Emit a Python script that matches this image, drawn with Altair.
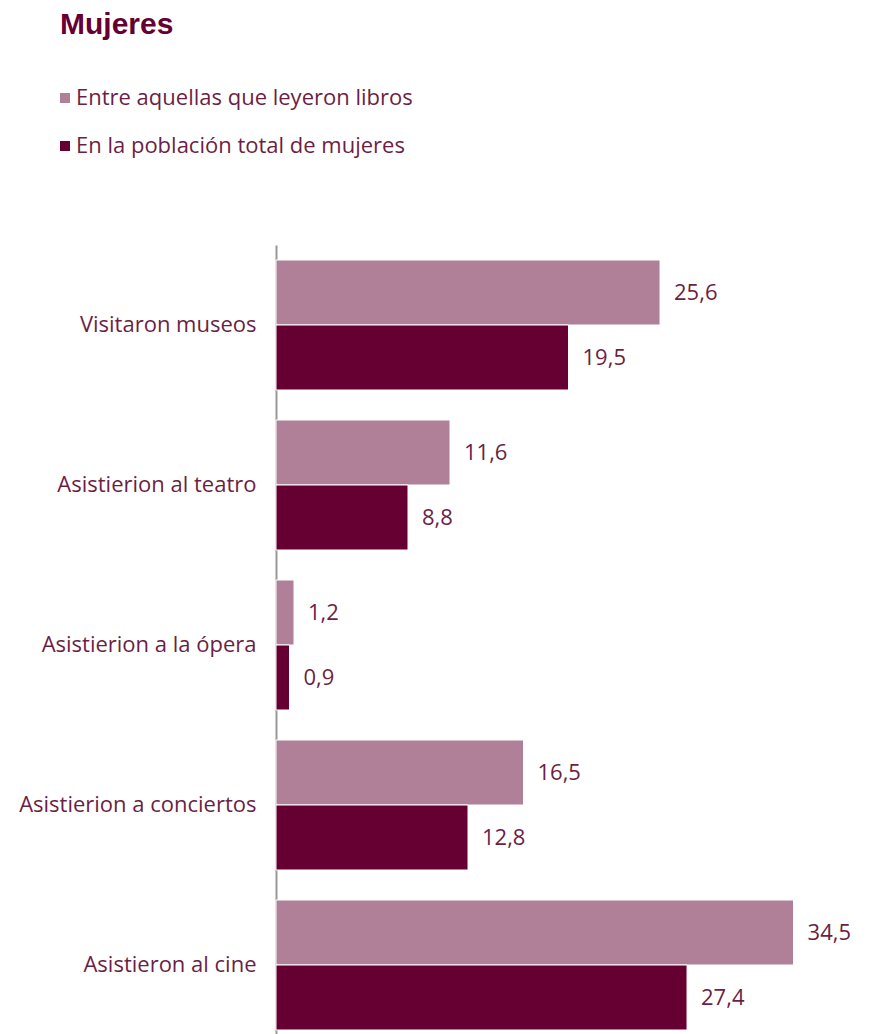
import altair as alt
import pandas as pd

categories = ["Visitaron museos", "Asistierion al teatro\u00a0", "Asistierion a la ópera\u00a0",
              "Asistierion a conciertos", "Asistieron al cine"]
series = ["Entre aquellas que leyeron libros", "En la población total de mujeres"]
readers = [25.6, 11.6, 1.2, 16.5, 34.5]
total = [19.5, 8.8, 0.9, 12.8, 27.4]
colors = ["#b07f98", "#660033"]

rows = []
for c, a, b in zip(categories, readers, total):
    rows.append({"cat": c, "serie": series[0], "v": a, "lab": f"{a:.1f}".replace(".", ",")})
    rows.append({"cat": c, "serie": series[1], "v": b, "lab": f"{b:.1f}".replace(".", ",")})
df = pd.DataFrame(rows)

FONT = "Open Sans"
TXT = "#6b1f45"
FS = 22

y_enc = alt.Y("cat:N", sort=categories,
              scale=alt.Scale(paddingInner=0.1875, paddingOuter=0.09375),
              axis=alt.Axis(title=None, ticks=False, domainColor="#999999", domainWidth=2,
                            labelPadding=20, labelFontSize=FS, labelFont=FONT,
                            labelColor=TXT, labelLimit=300))
x_enc = alt.X("v:Q", scale=alt.Scale(domain=[0, 37.33], nice=False), axis=None)
yoff = alt.YOffset("serie:N", sort=series)

base = alt.Chart(df)

bars = base.mark_bar(stroke="white", strokeWidth=1).encode(
    y=y_enc, x=x_enc, yOffset=yoff,
    color=alt.Color("serie:N", sort=series,
                    scale=alt.Scale(domain=series, range=colors),
                    legend=alt.Legend(title=None, orient="none", legendX=-222, legendY=-158,
                                      symbolType="square", symbolSize=100, symbolStrokeWidth=0,
                                      labelFont=FONT, labelFontSize=FS, labelColor=TXT,
                                      labelOffset=0, rowPadding=26, padding=0, labelLimit=500))
)

labels = base.mark_text(align="left", baseline="middle", dx=14, fontSize=FS, font=FONT,
                        color=TXT).encode(
    y=alt.Y("cat:N", sort=categories), x=alt.X("v:Q"), yOffset=yoff, text="lab:N"
)

chart = alt.layer(bars, labels).properties(
    width=560, height=800,
    title=alt.TitleParams("Mujeres", anchor="start", frame="group", dx=-216, offset=47,
                          font="Liberation Sans", fontWeight="bold", fontSize=30,
                          color="#660033"),
    autosize=alt.AutoSizeParams(type="none"),
    padding={"left": 268, "top": 237, "right": 20, "bottom": 10},
).configure_view(stroke=None)

chart.save("out.html", embed_options={"renderer": "svg", "actions": False})
